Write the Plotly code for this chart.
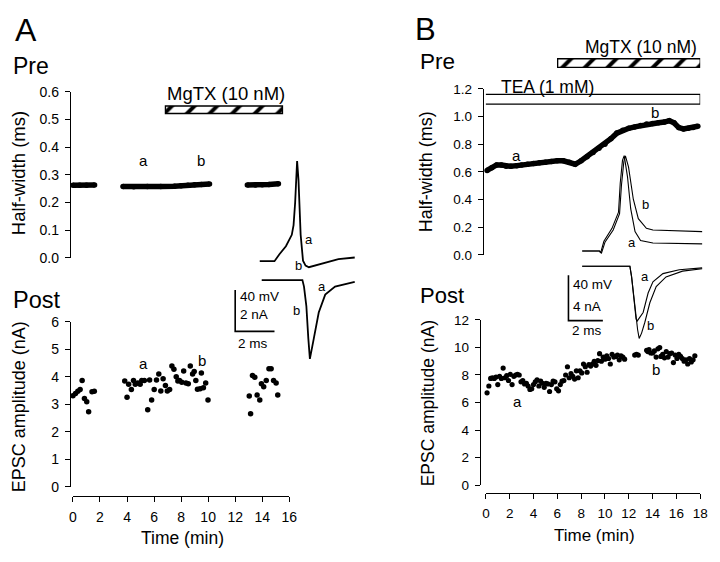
import plotly.graph_objects as go

# The page body carries an 8 px default margin, so the figure is drawn
# 8 px smaller and every pixel coordinate is shifted by that offset.
OFF = 8
W, H = 720 - OFF, 562 - OFF
FONT = "Liberation Sans, Arial, Helvetica, sans-serif"


def px(x):
    return (x - OFF) / W


def py(y):
    return 1 - (y - OFF) / H


# ------------------------------------------------------------------ data
# Panel A - presynaptic spike half-width (ms), three recording segments
a_hw_t1 = [0.0, 0.5, 1.0, 1.6]
a_hw_v1 = [0.262, 0.262, 0.262, 0.263]
a_hw_t2 = [3.7, 4.5, 5.5, 6.5, 7.5, 8.0, 8.5, 9.0, 9.5, 10.1]
a_hw_v2 = [0.258, 0.257, 0.258, 0.258, 0.259, 0.260, 0.262, 0.264, 0.265, 0.267]
a_hw_t3 = [12.9, 13.5, 14.0, 14.5, 15.2]
a_hw_v3 = [0.263, 0.263, 0.264, 0.265, 0.268]

# Panel A - EPSC amplitude (nA)
a_epsc_t = [0.0, 0.19, 0.36, 0.53, 0.68, 0.85, 1.02, 1.16, 1.41, 1.58,
            3.83, 4.0, 4.12, 4.32, 4.48, 4.61, 4.8, 4.97, 5.09, 5.28,
            5.53, 5.67, 5.82, 6.01, 6.18, 6.35, 6.5, 6.67, 6.84, 6.98,
            7.15, 7.32, 7.47, 7.64, 7.76, 7.88, 8.05, 8.19, 8.36, 8.53,
            8.68, 8.85, 8.97, 9.09, 9.21, 9.41, 9.5, 9.65, 9.82, 9.99,
            13.04, 13.14, 13.28, 13.45, 13.62, 13.82, 13.94, 14.11, 14.3, 14.5,
            14.66, 14.84, 15.03, 15.15]
a_epsc_v = [3.32, 3.40, 3.48, 3.54, 3.87, 3.22, 3.10, 2.73, 3.46, 3.48,
            3.85, 3.26, 3.73, 3.54, 3.87, 3.73, 3.78, 3.73, 3.87, 3.87,
            2.81, 3.89, 3.16, 3.54, 3.89, 4.11, 3.49, 3.93, 3.69, 3.49,
            3.54, 4.40, 4.28, 4.01, 3.85, 3.87, 3.81, 4.22, 3.78, 3.75,
            4.40, 4.11, 4.20, 3.87, 3.55, 3.57, 4.14, 3.61, 3.78, 3.16,
            3.31, 2.66, 4.05, 3.99, 3.34, 3.16, 3.75, 3.64, 3.87, 4.30,
            4.30, 3.87, 3.78, 3.34]

# Panel B - presynaptic spike half-width (ms)
b_hw_t = [0.1, 0.5, 0.9, 1.3, 1.7, 2.1, 2.6, 3.0, 3.5, 4.0, 4.5, 5.0, 5.5,
          6.0, 6.5, 7.0, 7.5, 8.0, 8.5, 9.0, 9.5, 10.0, 10.5, 11.0, 11.5,
          12.0, 12.5, 13.0, 13.5, 14.0, 14.5, 15.0, 15.4, 15.8, 16.2, 16.6,
          17.0, 17.4, 17.8]
b_hw_v = [0.61, 0.63, 0.65, 0.65, 0.64, 0.64, 0.645, 0.65, 0.655, 0.66,
          0.665, 0.67, 0.675, 0.68, 0.68, 0.67, 0.655, 0.68, 0.71, 0.74,
          0.77, 0.80, 0.84, 0.88, 0.90, 0.915, 0.925, 0.935, 0.945, 0.95,
          0.955, 0.96, 0.97, 0.955, 0.92, 0.91, 0.915, 0.92, 0.93]

# Panel B - EPSC amplitude (nA)
b_epsc_t = [0.1, 0.25, 0.4, 0.55, 0.7, 0.85, 1.0, 1.15, 1.3, 1.45, 1.6, 1.75,
            1.9, 2.05, 2.2, 2.35, 2.5, 2.65, 2.8, 2.95, 3.1, 3.25, 3.4, 3.55,
            3.7, 3.85, 4.0, 4.15, 4.3, 4.45, 4.6, 4.75, 4.9, 5.05, 5.2, 5.35,
            5.5, 5.65, 5.8, 5.95, 6.1, 6.25, 6.4, 6.55, 6.7, 6.85, 7.0, 7.15,
            7.3, 7.45, 7.6, 7.75, 7.9, 8.05, 8.2, 8.35, 8.5, 8.65, 8.8, 8.95,
            9.1, 9.25, 9.4, 9.55, 9.7, 9.85, 10.0, 10.15, 10.3, 10.45, 10.6,
            10.75, 10.9, 11.05, 11.2, 11.35, 11.5, 11.65, 12.5, 12.65, 12.8,
            13.5, 13.6, 13.7, 13.85, 14.0, 14.15, 14.3, 14.45, 14.6, 14.7,
            14.85, 15.0, 15.15, 15.3, 15.45, 15.6, 15.75, 15.9, 16.05, 16.2,
            16.35, 16.5, 16.65, 16.8, 16.95, 17.1, 17.25, 17.4, 17.55]
b_epsc_v = [6.7, 7.2, 7.75, 7.8, 7.75, 7.85, 7.3, 7.9, 7.75, 8.5, 7.8, 7.95,
            7.6, 8.05, 7.3, 7.9, 8.0, 8.05, 8.0, 7.5, 7.6, 7.35, 7.4, 7.2,
            6.95, 7.0, 7.3, 7.5, 7.65, 7.2, 7.55, 7.4, 7.1, 7.4, 7.35, 6.8,
            7.3, 7.55, 7.5, 7.0, 6.85, 7.3, 7.55, 7.6, 8.0, 8.6, 7.8, 8.1,
            7.9, 7.7, 8.3, 7.8, 8.3, 8.15, 8.8, 8.6, 8.2, 8.75, 8.65, 8.8,
            9.0, 8.7, 9.05, 9.55, 9.0, 9.3, 9.15, 9.4, 9.2, 8.8, 9.5,
            9.3, 9.35, 9.45, 9.1, 9.4, 9.3, 9.15, 9.45, 9.5, 9.45,
            9.8, 9.7, 9.85, 9.6, 9.6, 9.75, 9.3, 9.9, 10.0, 9.35,
            9.5, 9.25, 9.7, 9.3, 9.55, 9.6, 8.9, 9.45, 9.2, 9.5,
            9.35, 9.2, 9.0, 9.1, 8.8, 9.2, 8.95, 9.1, 9.4]

# Drug application periods (min)
a_mgtx = [6.84, 15.5]
b_mgtx = [6.03, 18.0]
b_tea = [-0.17, 18.0]

# Inset traces: time (ms) vs membrane potential (mV) / current (nA)
a_ap_t = [0.0, 0.75, 1.0, 1.33, 1.63, 1.72, 1.8, 1.87, 1.9, 1.97, 2.08, 2.2,
          2.33, 2.5, 2.83, 3.33, 4.0, 4.83]
a_ap_v = [0, 0, 6.7, 14.5, 25.5, 34.9, 56.7, 91, 96.7, 78.5, 25.5, 0.5,
          -4.2, -5.8, -4.2, -1.1, 2.1, 3.6]
a_ec_t = [0.1, 2.17, 2.25, 2.37, 2.47, 2.55, 2.75, 3.0, 3.33, 3.83, 4.83]
a_ec_v = [0, 0, -0.31, -1.25, -2.81, -3.8, -2.81, -1.56, -0.70, -0.31, -0.08]

b_ap_a_t = [0, 1.0, 1.07, 1.26, 1.73, 2.02, 2.11, 2.21, 2.34, 2.44, 2.63,
            2.82, 3.07, 3.39, 4.11, 6.97]
b_ap_a_v = [0, 0, -1.7, 8.6, 20, 30, 34.3, 60, 80, 84.2, 65.7, 37.1, 17.1,
            9.2, 7.1, 6.3]
b_ap_b_t = [0, 1.0, 1.12, 1.33, 1.8, 2.08, 2.17, 2.28, 2.42, 2.51, 2.69,
            2.97, 3.26, 3.73, 4.11, 6.97]
b_ap_b_v = [0, 0, -1.7, 8.0, 18.5, 28.5, 33, 58, 79, 84, 74.3, 45.7, 28.5,
            20, 18.6, 17.1]
b_ec_a_t = [0, 2.77, 2.87, 3.01, 3.13, 3.2, 3.54, 3.83, 4.11, 4.69, 5.64, 6.97]
b_ec_a_v = [0, 0, -0.94, -2.94, -4.65, -4.82, -4.08, -2.36, -1.37, -0.65,
            -0.31, -0.14]
b_ec_b_t = [0, 2.77, 2.87, 3.01, 3.13, 3.22, 3.31, 3.45, 3.64, 3.93, 4.3,
            4.87, 5.83, 6.97]
b_ec_b_v = [0, 0, -0.94, -2.94, -4.65, -5.6, -6.37, -5.9, -4.94, -3.22,
            -1.8, -0.94, -0.43, -0.22]

# ------------------------------------------------------------------ figure
fig = go.Figure()


def line(x, y, xa, ya, width=1.2, mode="lines", msize=0):
    fig.add_trace(go.Scatter(
        x=x, y=y, mode=mode, xaxis=xa, yaxis=ya, cliponaxis=False,
        line=dict(color="black", width=width),
        marker=dict(color="black", size=msize),
        showlegend=False, hoverinfo="skip"))


def dots(x, y, xa, ya, size=5.5):
    fig.add_trace(go.Scatter(
        x=x, y=y, mode="markers", xaxis=xa, yaxis=ya, cliponaxis=False,
        marker=dict(color="black", size=size, line=dict(width=0)),
        showlegend=False, hoverinfo="skip"))


def bar(period, ycen, height, xa, ya, hatch=True, psize=15):
    pat = dict(shape="/", fgcolor="black", bgcolor="white", size=psize,
               solidity=0.25, fillmode="replace") if hatch else dict(shape="")
    fig.add_trace(go.Bar(
        orientation="h", y=[ycen], base=[period[0]],
        x=[period[1] - period[0]], width=[height], xaxis=xa, yaxis=ya,
        cliponaxis=False,
        marker=dict(color="white", line=dict(color="black", width=1.3),
                    pattern=pat),
        showlegend=False, hoverinfo="skip"))


# Panel A top
for t, v in [(a_hw_t1, a_hw_v1), (a_hw_t2, a_hw_v2), (a_hw_t3, a_hw_v3)]:
    line(t, v, "x", "y", width=5.5, mode="lines+markers", msize=5.5)
bar(a_mgtx, 0.535, 0.027, "x", "y", psize=16)

# Panel A bottom
dots(a_epsc_t, a_epsc_v, "x2", "y2")

# Panel B top
line(b_hw_t, b_hw_v, "x3", "y3", width=5.5, mode="lines+markers", msize=5.5)
bar(b_tea, 1.125, 0.07, "x3", "y3", hatch=False)
# MgTX bar lies above the half-width axis: own hidden strip axis (y9)
bar(b_mgtx, 0.5, 0.45, "x3", "y9", psize=16)

# Panel B bottom
dots(b_epsc_t, b_epsc_v, "x4", "y4", size=5.2)

# Insets A
line(a_ap_t, a_ap_v, "x5", "y5", width=1.8)
line(a_ec_t, a_ec_v, "x6", "y6", width=1.8)
line([-1.25, -1.25, 0.75], [-0.47, -2.47, -2.47], "x6", "y6", width=1.6)

# Insets B
line(b_ap_a_t, b_ap_a_v, "x7", "y7", width=1.1)
line(b_ap_b_t, b_ap_b_v, "x7", "y7", width=1.1)
line(b_ec_a_t, b_ec_a_v, "x8", "y8", width=1.1)
line(b_ec_b_t, b_ec_b_v, "x8", "y8", width=1.1)
line([-0.8, -0.8, 1.2], [-0.8, -4.8, -4.8], "x8", "y8", width=1.6)

# ------------------------------------------------------------------ axes
hidden = dict(visible=False, showgrid=False, zeroline=False, fixedrange=True)


def yax(dom_top, dom_bot, rng, xpos, dtick, fmt, fsize):
    return dict(domain=[py(dom_bot), py(dom_top)], range=rng, anchor="free",
                position=px(xpos), showline=True, linecolor="black",
                linewidth=1.4, ticks="outside", ticklen=5, tickwidth=1.4,
                tickcolor="black", showgrid=False, zeroline=False,
                dtick=dtick, tick0=0, tickformat=fmt,
                ticklabelstandoff=3,
                tickfont=dict(family=FONT, size=fsize, color="black"))


def xax(left, right, rng, ypos, fsize):
    return dict(domain=[px(left), px(right)], range=rng, anchor="free",
                position=py(ypos), showline=True, linecolor="black",
                linewidth=1.4, ticks="outside", ticklen=5, tickwidth=1.4,
                tickcolor="black", showgrid=False, zeroline=False,
                dtick=2, tick0=0, ticklabelstandoff=3,
                tickfont=dict(family=FONT, size=fsize, color="black"))


def inset(lo, hi, rng):
    d = dict(hidden)
    d.update(domain=[lo, hi], range=rng, anchor="free", position=0)
    return d


layout = dict(
    width=W, height=H, margin=dict(l=0, r=0, t=0, b=0),
    paper_bgcolor="white", plot_bgcolor="rgba(0,0,0,0)",
    barmode="overlay", showlegend=False,
    font=dict(family=FONT, color="black"),
    xaxis=dict(hidden, domain=[px(70), px(290)], range=[0, 16], anchor="y"),
    yaxis=yax(86, 257, [0, 0.6], 67, 0.1, ".1f", 14),
    xaxis2=xax(70, 290, [0, 16], 502, 14),
    yaxis2=yax(323, 493, [0, 6], 67, 1, "d", 14),
    xaxis3=dict(hidden, domain=[px(490), px(708)], range=[0, 18], anchor="y3"),
    yaxis3=yax(83, 254, [0, 1.2], 487, 0.2, ".1f", 13.5),
    xaxis4=xax(490, 708, [0, 18], 499, 13.5),
    yaxis4=yax(321, 491, [0, 12], 484, 2, "d", 13.5),
    yaxis9=inset(py(66.5), py(46.5), [0, 1]),
    # insets (pixel-calibrated)
    xaxis5=inset(px(230), px(360), [-1.5, 5.0]),
    yaxis5=inset(py(270), py(150), [-8.9, 103.6]),
    xaxis6=inset(px(230), px(360), [-1.5, 5.0]),
    yaxis6=inset(py(370), py(275), [-4.215, 0.234]),
    xaxis7=inset(px(565), px(715), [-1.314, 7.257]),
    yaxis7=inset(py(260), py(140), [-8.57, 94.26]),
    xaxis8=inset(px(565), px(715), [-1.314, 7.257]),
    yaxis8=inset(py(345), py(262), [-6.795, 0.317]),
)
fig.update_layout(**layout)


# ------------------------------------------------------------------ text
def label(text, x, y, size, xanchor="center", yanchor="middle", angle=0):
    fig.add_annotation(text=text, x=px(x), y=py(y), xref="paper",
                       yref="paper", showarrow=False, textangle=angle,
                       xanchor=xanchor, yanchor=yanchor, borderpad=0,
                       font=dict(size=size, family=FONT, color="black"))


def dlabel(text, x, y, xa, ya, size=15):
    fig.add_annotation(text=text, x=x, y=y, xref=xa, yref=ya,
                       showarrow=False, borderpad=0,
                       font=dict(size=size, family=FONT, color="black"))


# panel letters and section titles
label("A", 22, 22, 32)
label("B", 429, 22, 31)
label("Pre", 8, 59, 23, xanchor="left")
label("Post", 8, 300, 23.5, xanchor="left")
label("Pre", 422, 55, 22.5, xanchor="left")
label("Post", 422, 296, 22, xanchor="left")

# drug labels
label("MgTX (10 nM)", 226, 88, 18.5)
label("MgTX (10 nM)", 648, 40, 17.5)
label("TEA (1 mM)", 553, 81, 17.5)

# axis titles
label("Half-width (ms)", 14, 170, 18.5, angle=-90)
label("EPSC amplitude (nA)", 16, 410, 18, angle=-90)
label("Time (min)", 181, 546, 17.5)
label("Half-width (ms)", 429, 168, 18, angle=-90)
label("EPSC amplitude (nA)", 432, 407, 17.5, angle=-90)
label("Time (min)", 600, 543, 17)

# a / b markers in main panels
dlabel("a", 5.2, 0.352, "x", "y")
dlabel("b", 9.45, 0.352, "x", "y")
dlabel("a", 5.2, 4.48, "x2", "y2")
dlabel("b", 9.53, 4.58, "x2", "y2")
dlabel("a", 2.6, 0.72, "x3", "y3")
dlabel("b", 14.2, 1.03, "x3", "y3")
dlabel("a", 2.67, 6.07, "x4", "y4")
dlabel("b", 14.27, 8.4, "x4", "y4")

# inset labels
label("a", 310, 238, 13)
label("b", 299, 265, 13)
label("a", 323, 287, 13)
label("b", 297, 311, 13)
label("b", 652, 202, 13)
label("a", 639, 241, 13)
label("a", 652, 276, 13)
label("b", 657, 327, 13)

# scale bar labels
label("40 mV", 239, 297, 13.5, xanchor="left")
label("2 nA", 239, 315, 13.5, xanchor="left")
label("2 ms", 253, 345, 13.5)
label("40 mV", 578, 284, 13.5, xanchor="left")
label("4 nA", 578, 307, 13.5, xanchor="left")
label("2 ms", 593, 332, 13.5)

fig.write_html("out.html")
